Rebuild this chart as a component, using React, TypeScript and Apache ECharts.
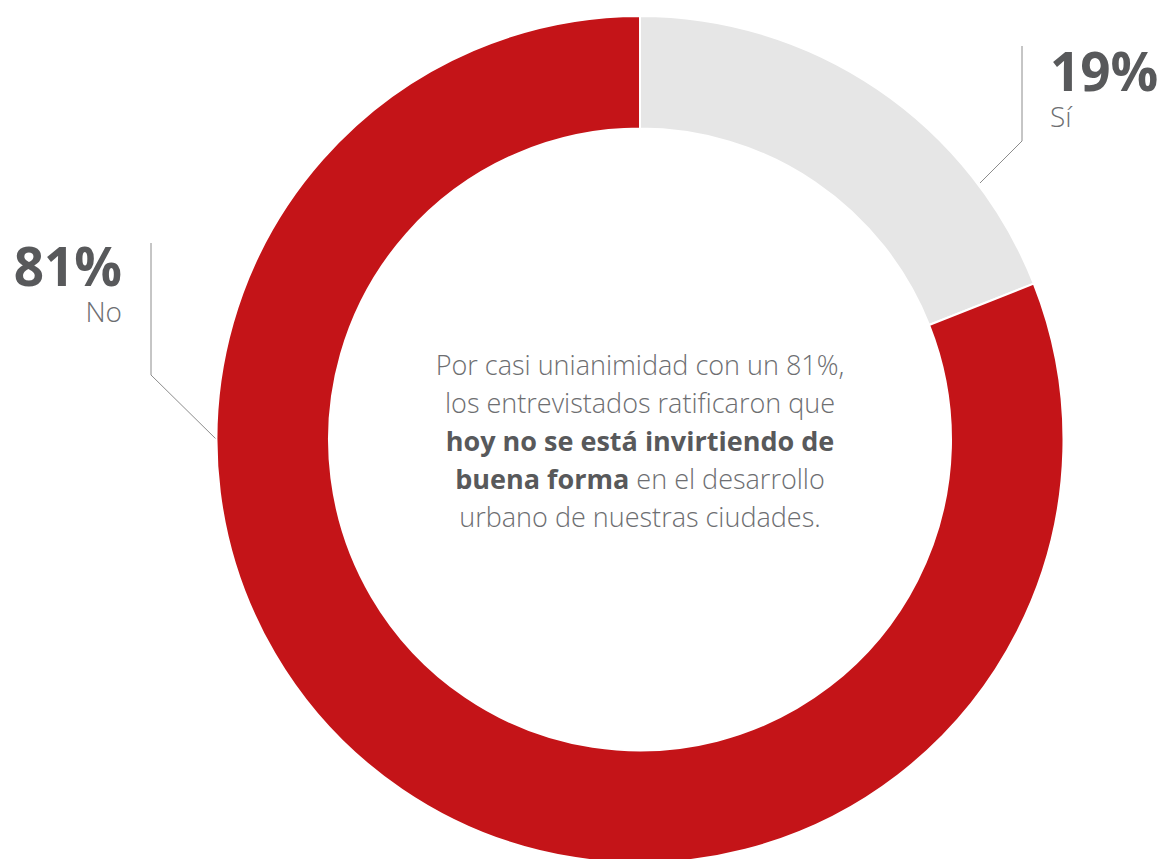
import React, { useEffect, useRef } from "react";
import * as echarts from "echarts";

const categories = ["Sí", "No"];
const values = [19, 81];
const sliceColors = ["#e6e6e6", "#c41418"];

const centerLines = [
  "Por casi unianimidad con un 81%,",
  "los entrevistados ratificaron que",
  "{b|hoy no se está invirtiendo de}",
  "{b|buena forma} en el desarrollo",
  "urbano de nuestras ciudades.",
];

const FONT = "'Open Sans', 'Noto Sans', sans-serif";
const DARK = "#58595b";
const LIGHT = "#6d6e71";

export default function App() {
  const ref = useRef<HTMLDivElement>(null);
  useEffect(() => {
    if (!ref.current) return;
    const chart = echarts.init(ref.current, undefined, { renderer: "svg" });
    chart.setOption({
      animation: false,
      backgroundColor: "#ffffff",
      title: {
        text: centerLines.join("\n"),
        left: 640,
        top: 345,
        textAlign: "center",
        padding: 0,
        textStyle: {
          fontFamily: FONT,
          fontSize: 27,
          fontWeight: 300,
          color: LIGHT,
          lineHeight: 38,
          align: "center",
          rich: {
            b: {
              fontFamily: FONT,
              fontSize: 27,
              fontWeight: 700,
              color: DARK,
              lineHeight: 38,
            },
          },
        },
      },
      series: [
        {
          type: "pie",
          center: [640, 439.5],
          radius: [311, 423.5],
          startAngle: 90,
          clockwise: true,
          avoidLabelOverlap: false,
          itemStyle: { borderColor: "#ffffff", borderWidth: 2 },
          emphasis: { disabled: true },
          label: {
            show: true,
            position: "outside",
            formatter: (p: any) => `{v|${p.value}%}\n{n|${p.name}}`,
            rich: {
              v: {
                fontFamily: FONT,
                fontSize: 53,
                fontWeight: 700,
                color: DARK,
                lineHeight: 56,
              },
              n: {
                fontFamily: FONT,
                fontSize: 28,
                fontWeight: 300,
                color: LIGHT,
                lineHeight: 36,
              },
            },
          },
          labelLine: {
            show: true,
            length: 20,
            length2: 20,
            lineStyle: { color: "#8c8c8c", width: 1 },
          },
          labelLayout: (params: any) => {
            if (params.dataIndex === 0) {
              return {
                x: 1050,
                y: 42,
                align: "left",
                verticalAlign: "top",
                labelLinePoints: [
                  [980, 183],
                  [1022, 141],
                  [1022, 46],
                ],
              };
            }
            return {
              x: 122,
              y: 237,
              align: "right",
              verticalAlign: "top",
              labelLinePoints: [
                [216, 439],
                [151, 375],
                [151, 243],
              ],
            };
          },
          data: categories.map((name, i) => ({
            name,
            value: values[i],
            itemStyle: { color: sliceColors[i] },
          })),
        },
      ],
    });
    return () => chart.dispose();
  }, []);
  return (
    <div
      ref={ref}
      style={{ position: "fixed", left: 0, top: 0, width: 1162, height: 859 }}
    />
  );
}
